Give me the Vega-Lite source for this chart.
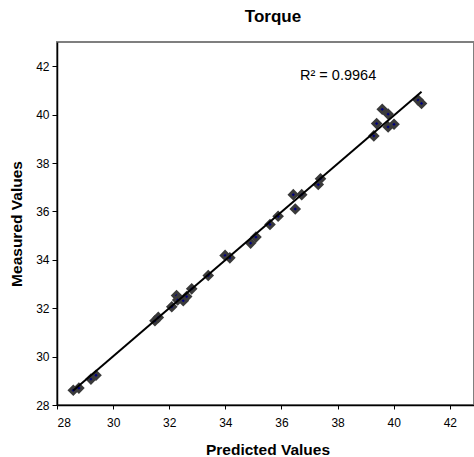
{
  "$schema": "https://vega.github.io/schema/vega-lite/v6.json",
  "width": 417,
  "height": 363,
  "autosize": {"type": "none"},
  "padding": {"left": 57, "top": 42, "right": 0, "bottom": 52},
  "background": "white",
  "config": {
    "view": {"stroke": "#7f7f7f", "strokeWidth": 2},
    "font": "Liberation Sans",
    "axis": {"grid": false, "domainColor": "black", "domainWidth": 1.5, "tickColor": "black", "labelColor": "black", "labelFont": "Liberation Sans", "labelFontSize": 12, "titleFont": "Liberation Sans", "titleFontSize": 15.5, "titleFontWeight": "bold", "titleColor": "black"}
  },
  "title": {"text": "Torque", "font": "Liberation Sans", "fontSize": 17, "fontWeight": "bold", "color": "black", "baseline": "alphabetic", "offset": 3, "dx": 7.5},
  "datasets": {
    "points": [
      {"predicted": 28.58, "measured": 28.61},
      {"predicted": 28.78, "measured": 28.70},
      {"predicted": 29.21, "measured": 29.07},
      {"predicted": 29.39, "measured": 29.23},
      {"predicted": 31.49, "measured": 31.48},
      {"predicted": 31.61, "measured": 31.62},
      {"predicted": 32.09, "measured": 32.06},
      {"predicted": 32.26, "measured": 32.52},
      {"predicted": 32.30, "measured": 32.34},
      {"predicted": 32.50, "measured": 32.31},
      {"predicted": 32.62, "measured": 32.48},
      {"predicted": 32.80, "measured": 32.80},
      {"predicted": 33.39, "measured": 33.35},
      {"predicted": 33.99, "measured": 34.18},
      {"predicted": 34.16, "measured": 34.08},
      {"predicted": 34.90, "measured": 34.69},
      {"predicted": 35.09, "measured": 34.94},
      {"predicted": 35.59, "measured": 35.46},
      {"predicted": 35.88, "measured": 35.80},
      {"predicted": 36.42, "measured": 36.69},
      {"predicted": 36.49, "measured": 36.10},
      {"predicted": 36.72, "measured": 36.69},
      {"predicted": 37.31, "measured": 37.11},
      {"predicted": 37.39, "measured": 37.35},
      {"predicted": 39.29, "measured": 39.12},
      {"predicted": 39.39, "measured": 39.63},
      {"predicted": 39.59, "measured": 40.22},
      {"predicted": 39.80, "measured": 40.02},
      {"predicted": 39.80, "measured": 39.49},
      {"predicted": 40.01, "measured": 39.60},
      {"predicted": 40.87, "measured": 40.60},
      {"predicted": 40.99, "measured": 40.46}
    ],
    "trend": [
      {"predicted": 28.58, "measured": 28.60},
      {"predicted": 40.99, "measured": 40.94}
    ],
    "label": [
      {"predicted": 36.66, "measured": 41.43, "text": "R² = 0.9964"}
    ]
  },
  "layer": [
    {
      "data": {"name": "points"},
      "mark": {"type": "point", "shape": "diamond", "filled": true, "fill": "#000080", "stroke": "#3a3a3a", "strokeWidth": 3, "size": 55, "opacity": 1},
      "encoding": {
        "x": {"field": "predicted", "type": "quantitative", "scale": {"domain": [28, 42.86], "nice": false, "zero": false}, "axis": {"values": [28, 30, 32, 34, 36, 38, 40, 42], "tickSize": 4, "labelPadding": 8, "title": "Predicted Values", "titleX": 210.5, "titleY": 49, "titleBaseline": "alphabetic", "titleAnchor": null}},
        "y": {"field": "measured", "type": "quantitative", "scale": {"domain": [28, 43], "nice": false, "zero": false}, "axis": {"values": [28, 30, 32, 34, 36, 38, 40, 42], "tickSize": 5, "labelPadding": 3, "title": "Measured Values", "titleX": -40.5, "titleY": 181.5, "titleBaseline": "middle", "titleAngle": -90}}
      }
    },
    {
      "data": {"name": "trend"},
      "mark": {"type": "line", "color": "black", "strokeWidth": 2},
      "encoding": {
        "x": {"field": "predicted", "type": "quantitative"},
        "y": {"field": "measured", "type": "quantitative"}
      }
    },
    {
      "data": {"name": "label"},
      "mark": {"type": "text", "align": "left", "baseline": "alphabetic", "font": "Liberation Sans", "fontSize": 14.5, "color": "black"},
      "encoding": {
        "x": {"field": "predicted", "type": "quantitative"},
        "y": {"field": "measured", "type": "quantitative"},
        "text": {"field": "text"}
      }
    }
  ]
}
